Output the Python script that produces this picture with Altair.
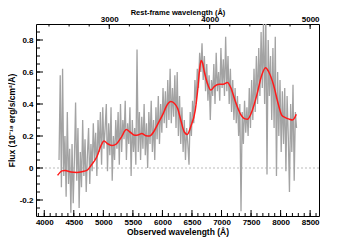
import altair as alt
import pandas as pd

# ---------------- data ----------------
gray_wl = list(range(4250, 8271, 20))
gray_flux = [
    0.05, 0.58, -0.12, 0.62, -0.05, 0.20, -0.18, 0.35, -0.10, 0.12,
    -0.28, 0.15, -0.22, 0.05, 0.41, -0.08, 0.25, -0.25, 0.10, -0.12,
    0.30, -0.05, 0.18, -0.15, 0.08, 0.25, -0.10, 0.15, -0.02, 0.28,
    0.05, 0.22, -0.05, 0.30, 0.10, 0.35, 0.02, 0.38, 0.12, 0.25,
    0.40, -0.02, 0.28, 0.08, 0.38, -0.08, 0.20, 0.05, 0.30, 0.12,
    0.35, 0.02, 0.40, 0.10, 0.30, 0.18, 0.42, 0.05, 0.28, 0.15,
    0.38, -0.05, 0.30, 0.10, 0.25, 0.02, 0.74, 0.10, 0.35, 0.05,
    0.32, 0.12, 0.40, 0.08, 0.28, 0.00, 0.35, 0.15, 0.42, 0.10,
    0.30, 0.05, 0.38, 0.18, 0.45, 0.15, 0.40, 0.22, 0.50, 0.28,
    0.48, 0.25, 0.55, 0.30, 0.62, 0.28, 0.50, 0.32, 0.58, 0.25,
    0.60, 0.20, 0.45, 0.15, 0.38, 0.10, 0.30, 0.05, 0.25, 0.15,
    0.02, 0.35, 0.20, 0.42, 0.28, 0.55, 0.40, 0.62, 0.50, 0.72,
    0.60, 0.78, 0.55, 0.70, 0.48, 0.65, 0.42, 0.58, 0.30, 0.55,
    0.45, 0.65, 0.40, 0.72, 0.48, 0.60, 0.42, 0.75, 0.50, 0.68,
    0.45, 0.82, 0.48, 0.70, 0.40, 0.62, 0.35, 0.55, 0.30, 0.50,
    0.28, 0.45, 0.20, 0.40, -0.27, 0.35, 0.15, 0.42, 0.22, 0.38,
    0.20, 0.50, 0.25, 0.55, 0.30, 0.62, 0.35, 0.70, 0.40, 0.75,
    0.45, 0.85, 0.50, 0.92, 0.40, 0.95, -0.04, 0.80, 0.45, 0.70,
    0.30, 0.75, 0.25, 0.82, -0.05, 0.60, 0.20, 0.55, 0.10, 0.48,
    0.15, 0.50, -0.02, 0.45, 0.20, -0.15, 0.40, 0.10, 0.52, -0.08,
    0.35, 0.25,
]

red_wl = [4225, 4300, 4350, 4450, 4550, 4650, 4720, 4800, 4890, 4960,
          5010, 5080, 5150, 5220, 5300, 5390, 5450, 5540, 5600, 5650,
          5720, 5780, 5850, 5910, 6000, 6080, 6140, 6200, 6260, 6310,
          6370, 6420, 6480, 6555, 6600, 6630, 6655, 6680, 6710, 6760, 6820, 6880,
          6960, 7030, 7100, 7160, 7230, 7310, 7400, 7440, 7520, 7600,
          7680, 7745, 7800, 7880, 7960, 8020, 8080, 8150, 8200, 8240, 8265]
red_flux = [-0.046, -0.018, -0.015, -0.025, -0.028, -0.022, -0.015, 0.02, 0.07, 0.14,
            0.168, 0.15, 0.14, 0.15, 0.19, 0.24, 0.225, 0.204, 0.208, 0.215,
            0.202, 0.20, 0.225, 0.267, 0.33, 0.395, 0.415, 0.405, 0.37, 0.30,
            0.225, 0.21, 0.26, 0.36, 0.50, 0.62, 0.672, 0.655, 0.60, 0.53, 0.487, 0.51,
            0.523, 0.523, 0.534, 0.50, 0.42, 0.345, 0.307, 0.305, 0.36, 0.46,
            0.58, 0.627, 0.60, 0.52, 0.40, 0.33, 0.315, 0.305, 0.30, 0.315, 0.336]

x_major = [4000, 4500, 5000, 5500, 6000, 6500, 7000, 7500, 8000, 8500]
x_minor = list(range(3900, 8601, 100))
y_major = [-0.2, 0.0, 0.2, 0.4, 0.6, 0.8]
y_minor = [-0.25, -0.2, -0.15, -0.1, -0.05, 0.0, 0.05, 0.1, 0.15, 0.2, 0.25, 0.3,
           0.35, 0.4, 0.45, 0.5, 0.55, 0.6, 0.65, 0.7, 0.75, 0.8, 0.85]
rest_major = [3000, 4000, 5000]
rest_minor = list(range(2400, 5001, 200))

OBS_DOMAIN = [3860, 8650]
ONE_PLUS_Z = 1.70
REST_DOMAIN = [OBS_DOMAIN[0] / ONE_PLUS_Z, OBS_DOMAIN[1] / ONE_PLUS_Z]
Y_DOMAIN = [-0.3, 0.9]

W, H = 283, 192
FONT = "Liberation Sans"

# ---------------- scales / axes ----------------
xs = alt.Scale(domain=OBS_DOMAIN, nice=False, zero=False)
ys = alt.Scale(domain=Y_DOMAIN, nice=False, zero=False)
rs = alt.Scale(domain=REST_DOMAIN, nice=False, zero=False)

common = dict(tickSize=0, domain=False, grid=False, labelFont=FONT, labelFontWeight="bold",
              labelFontSize=8, labelColor="black", titleFont=FONT, titleFontWeight="bold",
              titleColor="black")

x_axis = alt.Axis(values=x_major, format="d", labelPadding=2, titlePadding=1, titleFontSize=8.5,
                  title="Observed wavelength (Å)", **common)
y_axis = alt.Axis(values=y_major, labelPadding=3, titlePadding=3, titleFontSize=8.5,
                  labelExpr="datum.value == 0 ? '0' : (datum.value < 0 ? '-' : '') + format(abs(datum.value), '.1f')",
                  title="Flux (10⁻¹⁸ erg/s/cm²/Å)", **common)
top_axis = alt.Axis(orient="top", values=rest_major, format="d", labelPadding=0.5,
                    titleY=-10, titleBaseline="alphabetic", titleFontSize=7.5,
                    title="Rest-frame wavelength (Å)", **common)

X = lambda ax=x_axis: alt.X("wl:Q", scale=xs, axis=ax, title="Observed wavelength (Å)")
Y = lambda ax=y_axis: alt.Y("flux:Q", scale=ys, axis=ax, title="Flux (10⁻¹⁸ erg/s/cm²/Å)")

gray_df = pd.DataFrame({"wl": gray_wl, "flux": gray_flux})
red_df = pd.DataFrame({"wl": red_wl, "flux": red_flux})

zero = alt.Chart(pd.DataFrame({"flux": [0.0]})).mark_rule(
    color="#bbbbbb", strokeDash=[2, 2], strokeWidth=1).encode(y=Y())

gray = alt.Chart(gray_df).mark_line(color="#a3a3a3", strokeWidth=1.3, clip=True).encode(x=X(), y=Y())
red = alt.Chart(red_df).mark_line(color="#ff1a1a", strokeWidth=1.5, interpolate="monotone",
                                  clip=True).encode(x=X(), y=Y())

bx_major = alt.Chart(pd.DataFrame({"wl": x_major})).mark_rule(color="black").encode(
    x=X(), y=alt.value(H), y2=alt.value(H - 6))
bx_minor = alt.Chart(pd.DataFrame({"wl": x_minor})).mark_rule(color="black").encode(
    x=X(), y=alt.value(H), y2=alt.value(H - 3))
ly_major = alt.Chart(pd.DataFrame({"flux": y_major})).mark_rule(color="black").encode(
    y=Y(), x=alt.value(0), x2=alt.value(7))
ly_minor = alt.Chart(pd.DataFrame({"flux": y_minor})).mark_rule(color="black").encode(
    y=Y(), x=alt.value(0), x2=alt.value(4))

obs_group = alt.layer(zero, gray, red, bx_minor, bx_major, ly_minor, ly_major)

RX = alt.X("rest:Q", scale=rs, axis=top_axis, title="Rest-frame wavelength (Å)")
t_major = alt.Chart(pd.DataFrame({"rest": rest_major})).mark_rule(color="black").encode(
    x=RX, y=alt.value(0), y2=alt.value(5))
t_minor = alt.Chart(pd.DataFrame({"rest": rest_minor})).mark_rule(color="black").encode(
    x=RX, y=alt.value(0), y2=alt.value(2.5))
rest_group = alt.layer(t_minor, t_major)

chart = alt.layer(obs_group, rest_group).resolve_scale(x="independent").properties(
    width=W, height=H,
    autosize=alt.AutoSizeParams(type="none"),
    padding={"left": 28, "top": 16, "right": 28, "bottom": 24},
).configure_view(stroke="black", strokeWidth=1)

chart.save("out.html", embed_options={"renderer": "svg", "actions": False})
